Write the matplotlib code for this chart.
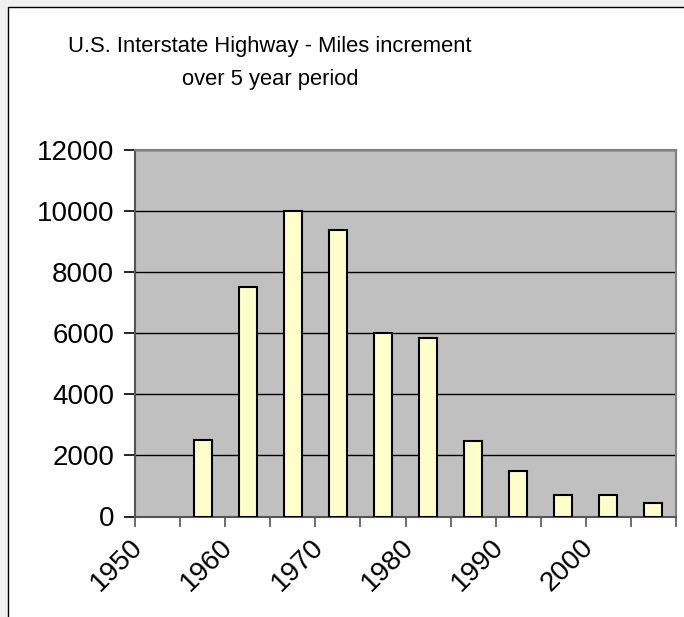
import matplotlib
matplotlib.use('Agg')
from matplotlib import pyplot as plt
from matplotlib.patches import Rectangle
from matplotlib.transforms import ScaledTranslation

plt.rcParams['font.family'] = ['Liberation Sans', 'DejaVu Sans']

################################################################################
### Data: miles added to the Interstate system in each 5 year period
################################################################################
periods = [1957.5, 1962.5, 1967.5, 1972.5, 1977.5, 1982.5,
           1987.5, 1992.5, 1997.5, 2002.5, 2007.5]
miles = [2510, 7530, 10000, 9370, 6000, 5840, 2470, 1480, 690, 690, 430]
year_ticks = [1950, 1960, 1970, 1980, 1990, 2000]
minor_ticks = [1955, 1965, 1975, 1985, 1995, 2005, 2010]

fig = plt.figure(figsize=(6.84, 6.17), dpi=100)
fig.patch.set_facecolor('#f0f0f0')

# white chart area with a thin black frame
frame = Rectangle((8 / 684, -0.01), 1.0, 1.01 - 7 / 617, transform=fig.transFigure,
                  facecolor='white', edgecolor='black', linewidth=1.0, zorder=-5)
fig.patches.append(frame)

ax = fig.add_axes([135 / 684, 1 - 516.5 / 617, (676 - 135) / 684, (516.5 - 150) / 617])
ax.set_facecolor('#c0c0c0')

ax.bar(periods, miles, width=2.0, color='#ffffcc', edgecolor='black',
       linewidth=1.5, zorder=3)

ax.set_xlim(1950, 2010)
ax.set_ylim(0, 12000)
ax.set_yticks(range(0, 12001, 2000))
ax.yaxis.grid(True, color='black', linewidth=1.0, zorder=1)
ax.set_axisbelow(True)

ax.set_xticks(year_ticks)
ax.set_xticks(minor_ticks, minor=True)
ax.set_xticklabels([str(y) for y in year_ticks], rotation=45, ha='right',
                   va='center', rotation_mode='anchor', fontsize=20)
ax.tick_params(axis='x', which='both', length=7, width=1.2, color='#555555',
               direction='out', pad=12)
ax.tick_params(axis='y', length=8, width=1.2, color='black', labelsize=20, pad=7)
# nudge the rotated year labels a little to the right
shift = ScaledTranslation(4 / 100, 0, fig.dpi_scale_trans)
for lab in ax.get_xticklabels():
    lab.set_transform(lab.get_transform() + shift)

for side in ['top', 'right']:
    ax.spines[side].set_color('#808080')
    ax.spines[side].set_linewidth(1.5)
for side in ['left', 'bottom']:
    ax.spines[side].set_color('#555555')
    ax.spines[side].set_linewidth(1.5)

fig.text(270 / 684, 1 - 63 / 617,
         'U.S. Interstate Highway - Miles increment\nover 5 year period',
         ha='center', va='center', fontsize=15.8, linespacing=1.8)

fig.savefig('out.png', dpi=100, facecolor=fig.get_facecolor())
plt.close(fig)
